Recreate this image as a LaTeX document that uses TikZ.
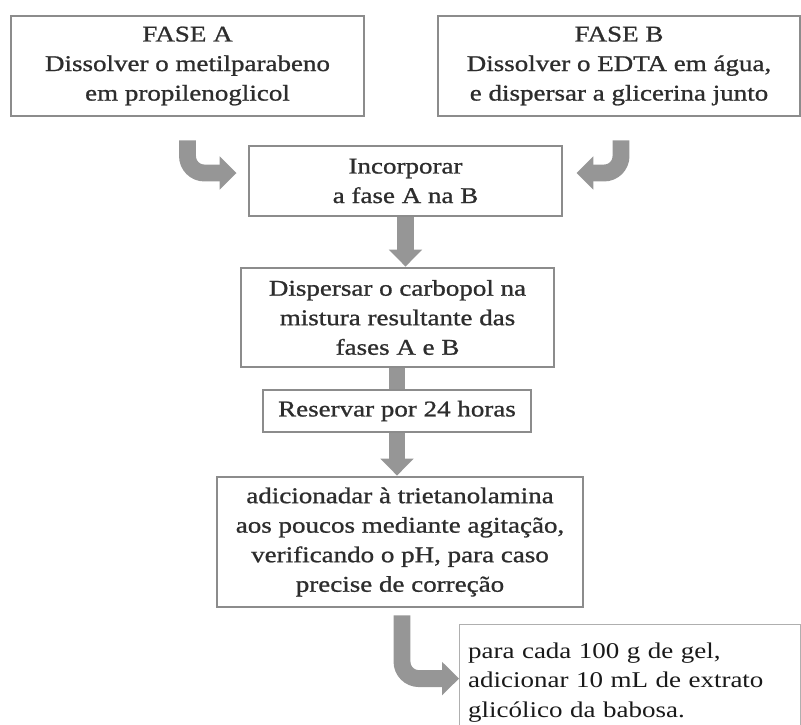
\documentclass[tikz,border=0pt]{standalone}
\usepackage{fontspec}
\setmainfont{Liberation Serif}[FakeStretch=1.2, FakeBold=1]
\newfontfamily\notefont{Liberation Serif}[FakeStretch=1.2]
\usetikzlibrary{arrows.meta, positioning}
\definecolor{boxgray}{RGB}{140,140,140}
\definecolor{arrowgray}{RGB}{150,150,150}
\definecolor{textgray}{RGB}{45,45,45}
\tikzstyle{block} = [draw=boxgray, line width=2pt, fill=white, rectangle, align=center, inner sep=0pt, text=textgray, font=\fontsize{16}{21}\selectfont]
\tikzstyle{note} = [draw=boxgray!70, line width=0.8pt, fill=white, rectangle, align=left, inner sep=0pt, text=black!90, font=\notefont\fontsize{16}{21}\selectfont]
\tikzstyle{flow} = [draw=arrowgray, line width=12pt, -{Triangle[width=23pt,length=12pt]}]
\tikzstyle{bar} = [draw=arrowgray, line width=12pt]

\begin{document}
\begin{tikzpicture}[x=0.025cm, y=-0.025cm]
    \useasboundingbox (0,0) rectangle (801,724);
    \node [block, minimum width=8.825cm, minimum height=2.5cm] (fa) at (187.5,66) {FASE A\\Dissolver o metilparabeno\\em propilenoglicol};
    \node [block, minimum width=9.05cm, minimum height=2.5cm] (fb) at (619,66) {FASE B\\Dissolver o EDTA em água,\\e dispersar a glicerina junto};
    \node [block, minimum width=7.825cm, minimum height=1.75cm] (inc) at (405.5,181) {Incorporar\\a fase A na B};
    \node [block, minimum width=7.825cm, minimum height=2.475cm] (disp) at (397.5,317.5) {Dispersar o carbopol na\\mistura resultante das\\fases A e B};
    \node [block, minimum width=6.7cm, minimum height=1.05cm] (res) at (397,411) {Reservar por 24 horas};
    \node [block, minimum width=9.15cm, minimum height=3.25cm] (adic) at (400,542) {adicionadar à trietanolamina\\aos poucos mediante agitação,\\verificando o pH, para caso\\precise de correção};
    \node [note, anchor=north west, minimum width=8.525cm, minimum height=2.9cm, text width=8.1cm] (para) at (459,624) {para cada 100 g de gel,\\adicionar 10 mL de extrato\\glicólico da babosa.};

    % curved inputs
    \coordinate (a0) at ([yshift=-0.575cm]fa.south);
    \coordinate (a1) at ([xshift=-0.275cm,yshift=0.2cm]inc.west);
    \coordinate (b0) at ([xshift=0.05cm,yshift=-0.575cm]fb.south);
    \coordinate (b1) at ([xshift=0.325cm,yshift=0.2cm]inc.east);
    \draw [flow, rounded corners=12pt] (a0) |- (a1);
    \draw [flow, rounded corners=12pt] (b0) |- (b1);

    \draw [flow] (inc.south) -- (inc.south |- disp.north);
    \draw [bar] (disp.south -| res.north) -- (res.north);
    \draw [flow] (res.south) -- (res.south |- adic.north);

    \coordinate (c1) at ([yshift=0.1cm]para.west);
    \draw [flow, rounded corners=12pt] ([xshift=0.05cm,yshift=-0.175cm]adic.south) |- (c1);
\end{tikzpicture}
\end{document}
